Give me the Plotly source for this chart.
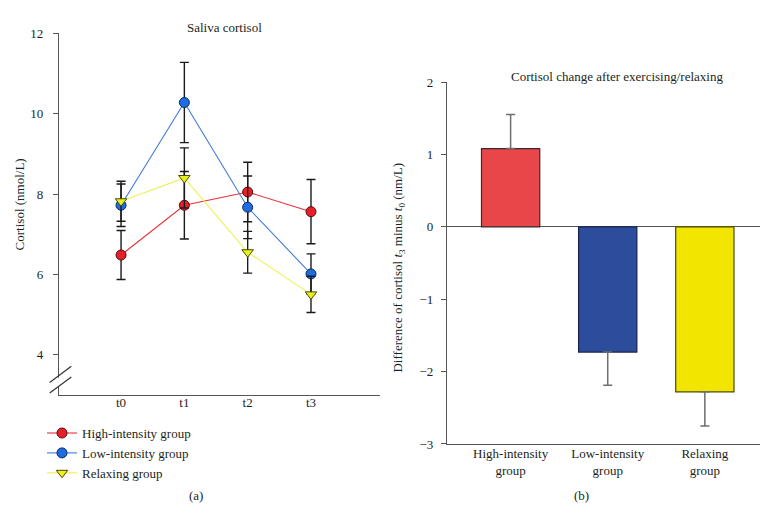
import plotly.graph_objects as go

# ---- data: panel (a) ----
times = ["t0", "t1", "t2", "t3"]
high_mean = [6.48, 7.72, 8.05, 7.56]
high_err = [0.61, 0.84, 0.74, 0.80]
low_mean = [7.72, 10.28, 7.67, 6.01]
low_err = [0.53, 1.00, 0.78, 0.50]
relax_mean = [7.82, 8.40, 6.55, 5.50]
relax_err = [0.50, 0.75, 0.52, 0.45]
series_names = ["High-intensity group", "Low-intensity group", "Relaxing group"]

# ---- data: panel (b) ----
groups = ["High-intensity<br>group", "Low-intensity<br>group", "Relaxing<br>group"]
change = [1.08, -1.73, -2.28]
change_err = [0.47, 0.46, 0.47]

W, H = 768, 521
FONT = "Liberation Serif"
FS = 13
TXT = "#231f20"
AX = "#555555"

def px(x):
    return x / W

def py(y):
    return 1 - y / H

fig = go.Figure()

styles = [
    dict(line="#e8303a", fill="#e5202a", edge="#5a0a0a", symbol="circle"),
    dict(line="#3d7be0", fill="#1f6be0", edge="#0a2a5a", symbol="circle"),
    dict(line="#eef050", fill="#e8f020", edge="#4a4a00", symbol="triangle-down"),
]
for name, m, e, st in zip(series_names, [high_mean, low_mean, relax_mean],
                          [high_err, low_err, relax_err], styles):
    fig.add_trace(go.Scatter(
        x=times, y=m, name=name, mode="lines+markers",
        line=dict(color=st["line"], width=1.1),
        marker=dict(symbol=st["symbol"], size=10, color=st["fill"],
                    line=dict(color=st["edge"], width=1)),
        error_y=dict(type="data", array=e, visible=True, color="#1a1a1a",
                     thickness=1.4, width=4.5),
        xaxis="x", yaxis="y", showlegend=True,
    ))

bar_fill = ["#e84648", "#2c4c9c", "#f2e600"]
bar_edge = ["#3a2a2a", "#1a2350", "#4d4800"]
err_up = [e if v >= 0 else 0 for v, e in zip(change, change_err)]
err_dn = [e if v < 0 else 0 for v, e in zip(change, change_err)]
fig.add_trace(go.Bar(
    x=groups, y=change, width=0.6,
    marker=dict(color=bar_fill, line=dict(color=bar_edge, width=1.2)),
    error_y=dict(type="data", symmetric=False, array=err_up, arrayminus=err_dn,
                 color="#6e6e6e", thickness=1.5, width=4.5),
    xaxis="x2", yaxis="y2", showlegend=False,
))

tickfont = dict(family=FONT, size=FS, color=TXT)

fig.update_layout(
    width=W, height=H,
    margin=dict(l=0, r=0, t=0, b=0),
    paper_bgcolor="white", plot_bgcolor="white",
    font=dict(family=FONT, size=FS, color=TXT),
    xaxis=dict(domain=[px(51), px(372)], anchor="y", type="category",
               range=[-0.98, 4.09], showline=True, linecolor=AX, linewidth=1.3,
               ticks="", showgrid=False, zeroline=False, tickfont=tickfont,
               ticklabelstandoff=-4),
    yaxis=dict(domain=[py(391), py(19)], anchor="x", range=[3, 12],
               tickvals=[4, 6, 8, 10, 12], showline=True, linecolor=AX,
               linewidth=1.3, ticks="outside", ticklen=5, tickcolor=AX,
               ticklabelstandoff=7,
               showgrid=False, zeroline=False, tickfont=tickfont),
    xaxis2=dict(domain=[px(439), px(759)], anchor="y2", type="category",
                range=[-0.655, 2.64], showline=True, linecolor=AX, linewidth=1.3,
                ticks="", showgrid=False, zeroline=False, tickfont=tickfont,
                ticklabelstandoff=-3),
    yaxis2=dict(domain=[py(441.7), py(69)], anchor="x2", range=[-3, 2],
                tickvals=[-3, -2, -1, 0, 1, 2], showline=True, linecolor=AX,
                linewidth=1.3, ticks="outside", ticklen=5, tickcolor=AX,
                ticklabelstandoff=5,
                showgrid=False, zeroline=True, zerolinecolor=AX, zerolinewidth=1.3,
                tickfont=tickfont),
    legend=dict(x=px(34), y=py(415), xanchor="left", yanchor="top",
                bgcolor="rgba(0,0,0,0)", font=dict(family=FONT, size=FS, color=TXT),
                itemwidth=30, tracegroupgap=0),
    showlegend=True,
)

ann = [
    dict(text="Saliva cortisol", x=px(216), y=py(13)),
    dict(text="Cortisol change after exercising/relaxing", x=px(609), y=py(63)),
    dict(text="(a)", x=px(188), y=py(495)),
    dict(text="(b)", x=px(573), y=py(495)),
    dict(text="Cortisol (nmol/L)", x=px(11), y=py(195), textangle=-90),
    dict(text="Difference of cortisol <i>t</i><sub>3</sub> minus <i>t</i><sub>0</sub> (nm/L)",
         x=px(391), y=py(260), textangle=-90),
]
for a in ann:
    fig.add_annotation(xref="paper", yref="paper", showarrow=False,
                       xanchor="center", yanchor="middle",
                       font=dict(family=FONT, size=FS, color=TXT), **a)

# axis break marks on the left panel's y axis
gap = "M {} {} L {} {} L {} {} L {} {} Z".format(
    px(41.7), py(380.3), px(63.3), py(363.7), px(63.3), py(372.7), px(41.7), py(389.3))
fig.add_shape(type="path", path=gap, xref="paper", yref="paper",
              fillcolor="white", line=dict(width=0), layer="above")
for y0, y1 in [(378.3, 361.7), (389.3, 372.7)]:
    fig.add_shape(type="line", xref="paper", yref="paper",
                  x0=px(41.7), y0=py(y0), x1=px(63.3), y1=py(y1),
                  line=dict(color="#333333", width=1.2), layer="above")

fig.write_html("out.html")
